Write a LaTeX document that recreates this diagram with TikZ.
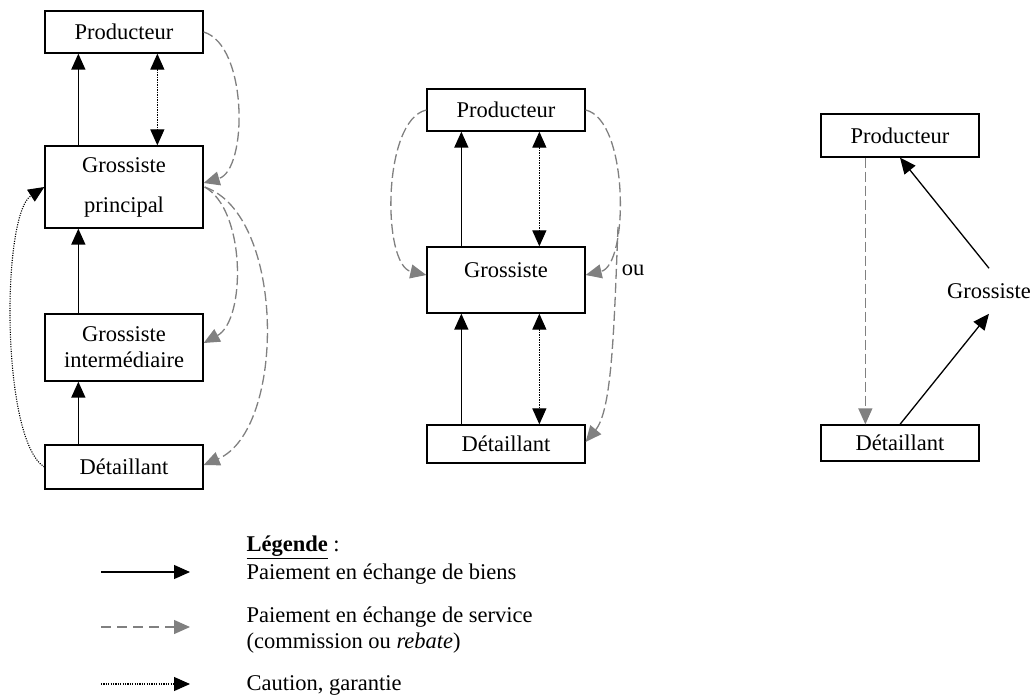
\documentclass[tikz,border=0pt]{standalone}
\usepackage{fontspec}
\setmainfont{Liberation Serif}
\usetikzlibrary{arrows.meta,calc}
\definecolor{dgray}{HTML}{808080}
\begin{document}
\begin{tikzpicture}[x=1pt,y=-1pt,
  font=\fontsize{22.5}{27}\selectfont,
  box/.style={draw, line width=1.3pt, minimum width=158pt, inner sep=0pt, align=center},
  solidarrow/.style={line width=1.5pt, -{Triangle[length=16pt,width=14pt]}},
  dotdouble/.style={line width=1.2pt, dash pattern=on 1.2pt off 1.3pt, {Triangle[length=16pt,width=14pt]}-{Triangle[length=16pt,width=14pt]}},
  dotsingle/.style={line width=1.1pt, dash pattern=on 1.1pt off 1.3pt, -{Triangle[length=16pt,width=14pt]}},
  dasharrow/.style={dgray, line width=1.3pt, dash pattern=on 10pt off 4pt, -{Triangle[length=16pt,width=14pt]}}]
\useasboundingbox (0,0) rectangle (1034,697);

% ---- left column
\node[box, minimum height=42pt] (P1) at (124,32) {Producteur};
\node[box, minimum height=82pt] (GP) at (124,187) {Grossiste\\[13pt]principal};
\node[box, minimum height=67pt, font=\fontsize{22.5}{26}\selectfont] (GI) at (124,347.5) {Grossiste\\intermédiaire};
\node[box, minimum height=44pt] (D1) at (124,467) {Détaillant};

\draw[solidarrow] ($(GP.north west)+(34,0)$) -- ($(P1.south west)+(34,0)$);
\draw[solidarrow] ($(GI.north west)+(34,0)$) -- ($(GP.south west)+(34,0)$);
\draw[solidarrow] ($(D1.north west)+(34,0)$) -- ($(GI.south west)+(34,0)$);
\draw[dotdouble] ($(P1.south west)+(113,0)$) -- ($(GP.north west)+(113,0)$);

\draw[dasharrow] (P1.east) .. controls (248,45) and (248,170) .. ($(GP.east)+(0,-4)$);
\coordinate (gpo) at ($(GP.east)+(1,0)$);
\draw[dasharrow] (gpo) .. controls (246,210) and (246,320) .. ($(GI.east)+(0,-4.5)$);
\draw[dasharrow] (gpo) .. controls (286,215) and (286,430) .. ($(D1.east)+(0,-2)$);
\draw[dotsingle] (D1.west) .. controls (1,440) and (1,215) .. (GP.west);

% ---- middle column
\node[box, minimum height=42pt] (P2) at (506,110) {Producteur};
\node[box, minimum height=66pt] (G2) at (506,280) {};
\node (G2t) at (506,270) {Grossiste};
\node[box, minimum height=38pt] (D2) at (506,444) {Détaillant};

\draw[solidarrow] ($(G2.north west)+(35,0)$) -- ($(P2.south west)+(35,0)$);
\draw[solidarrow] ($(D2.north west)+(35,0)$) -- ($(G2.south west)+(35,0)$);
\draw[dotdouble] ($(P2.south west)+(113,0)$) -- ($(G2.north west)+(113,0)$);
\draw[dotdouble] ($(G2.south west)+(113,0)$) -- ($(D2.north west)+(113,0)$);

\draw[dasharrow] (P2.west) .. controls (382,120) and (382,265) .. ($(G2.west)+(0,-5)$);
\draw[dasharrow] (P2.east) .. controls (629,120) and (629,265) .. ($(G2.east)+(0,-5)$);
\coordinate (ou) at (618,227);
\draw[dasharrow] (ou) .. controls (614,330) and (612,410) .. ($(D2.east)+(0,-2)$);
\node (oulbl) at (633,270) {ou};

% ---- right column
\node[box, minimum height=43pt] (P3) at (900,135.5) {Producteur};
\node[box, minimum height=36pt] (D3) at (900,443) {Détaillant};
\node[inner xsep=2pt, inner ysep=15pt] (G3) at (989,291) {Grossiste};
\draw[dasharrow] ($(P3.south west)+(45,0)$) -- ($(D3.north west)+(45,0)$);
\draw[solidarrow, line width=1.3pt] (G3.north) -- (P3.south);
\draw[solidarrow, line width=1.3pt] (D3.north) -- (G3.south);

% ---- legend
\node[anchor=west] (leg) at (243,547) {\underline{\textbf{Légende}} :};
\coordinate (l1a) at (101,572); \coordinate (l1b) at (190,572);
\coordinate (l2a) at (101,627); \coordinate (l2b) at (190,627);
\coordinate (l3a) at (101,684); \coordinate (l3b) at (190,684);
\draw[solidarrow, line width=1.2pt] (l1a) -- (l1b);
\draw[dasharrow, dash pattern=on 10pt off 6pt] (l2a) -- (l2b);
\draw[dotsingle] (l3a) -- (l3b);
\node[anchor=west] (t1) at (243,574) {Paiement en échange de biens};
\node[anchor=west, align=left, font=\fontsize{22.5}{26}\selectfont] (t2) at (243,630) {Paiement en échange de service\\(commission ou \textit{rebate})};
\node[anchor=west] (t3) at (243,685) {Caution, garantie};
\end{tikzpicture}
\end{document}
